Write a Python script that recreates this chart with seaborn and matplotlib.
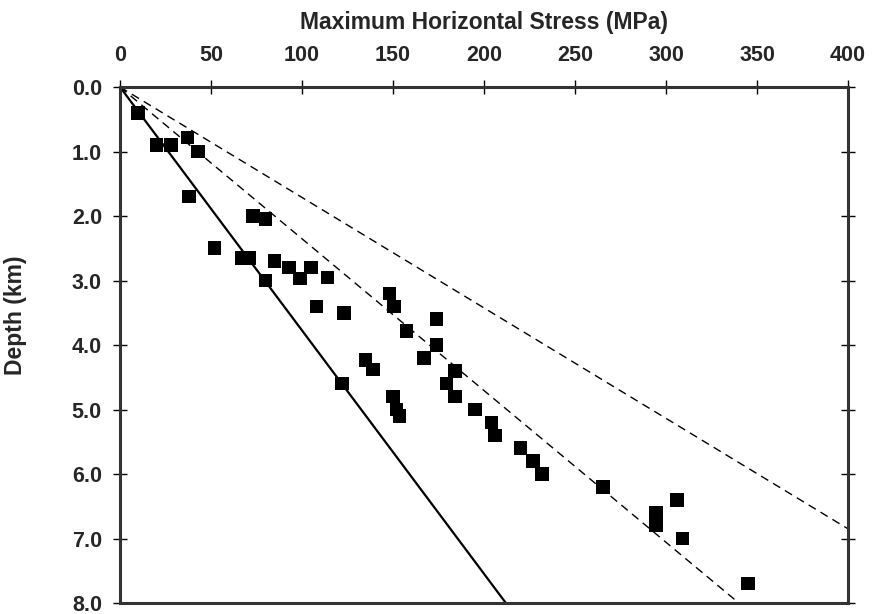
import numpy as np
import pandas as pd
import matplotlib
matplotlib.use("Agg")
import matplotlib.pyplot as plt
import seaborn as sns

# measured points: stress (MPa) vs depth (km)
stress = [10, 20, 28, 37, 43, 38, 73, 80, 52, 67, 71, 85, 93, 99, 105, 114, 80,
          108, 123, 148, 150.5, 174, 157.5, 174, 167, 135, 139, 184, 179.5, 184,
          122, 150, 152, 153.5, 195, 204, 206, 220, 227, 232, 265.5, 306, 294.5,
          294.5, 309, 345]
depth = [0.4, 0.9, 0.9, 0.78, 1.0, 1.7, 2.0, 2.05, 2.5, 2.65, 2.65, 2.7, 2.8,
         2.97, 2.8, 2.95, 3.0, 3.4, 3.5, 3.2, 3.4, 3.6, 3.78, 4.0, 4.2, 4.23,
         4.38, 4.4, 4.6, 4.8, 4.6, 4.8, 5.0, 5.1, 5.0, 5.2, 5.4, 5.6, 5.8, 6.0,
         6.2, 6.4, 6.6, 6.8, 7.0, 7.7]

# reference gradients
solid_depth = [0, 8]
solid_stress = [0, 212]
mid_depth = [0, 8]
mid_stress = [0, 340]
upper_depth = [0, 6.85]
upper_stress = [0, 400]

x_ticks = [0, 50, 100, 150, 200, 250, 300, 350, 400]
y_ticks = [0, 1, 2, 3, 4, 5, 6, 7, 8]

sns.set_theme(style="white")
plt.rcParams['font.family'] = ['Liberation Sans', 'DejaVu Sans']
plt.rcParams['font.weight'] = 'bold'

fig = plt.figure(figsize=(8.72, 6.14), dpi=100)
ax = fig.add_axes([0.1376, 0.0179, 0.8349, 0.8404])

df = pd.DataFrame({'stress': stress, 'depth': depth})
sns.scatterplot(data=df, x='stress', y='depth', marker='s', s=95, color='black',
                edgecolor='none', ax=ax, zorder=3)

sns.lineplot(x=solid_stress, y=solid_depth, sort=False, color='black', linewidth=1.6, ax=ax)
sns.lineplot(x=mid_stress, y=mid_depth, sort=False, color='black', linewidth=1.0,
             linestyle=(0, (6, 4)), ax=ax)
sns.lineplot(x=upper_stress, y=upper_depth, sort=False, color='black', linewidth=1.0,
             linestyle=(0, (6, 4)), ax=ax)

ax.set_xlim(0, 400)
ax.set_ylim(8, 0)
ax.set_xticks(x_ticks)
ax.set_yticks(y_ticks)
ax.set_yticklabels([f"{v:.1f}" for v in y_ticks])

ax.xaxis.tick_top()
ax.xaxis.set_label_position('top')
ax.tick_params(axis='x', top=True, bottom=False, direction='inout', length=10, width=1,
               color='black', labelsize=15.5, pad=10)
ax.tick_params(axis='y', left=True, right=True, direction='inout', length=10, width=1,
               color='black', labelsize=15.5, pad=8)
for lab in ax.get_xticklabels() + ax.get_yticklabels():
    lab.set_fontweight('bold')

ax.set_xlabel("Maximum Horizontal Stress (MPa)", fontsize=16.5, fontweight='bold', labelpad=12)
ax.set_ylabel("Depth (km)", fontsize=16.5, fontweight='bold')
ax.yaxis.set_label_coords(-0.128, 0.558)

for sp in ax.spines.values():
    sp.set_visible(True)
    sp.set_linewidth(2.2)
    sp.set_color('#333333')

fig.savefig("out.png", dpi=100)
